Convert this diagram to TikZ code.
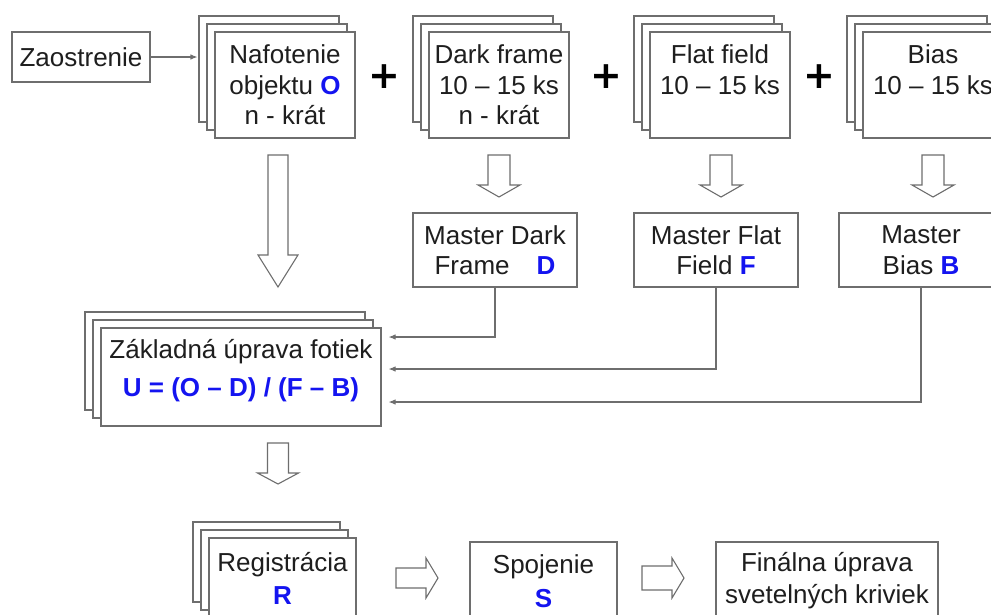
\documentclass[tikz,border=0pt]{standalone}
\usepackage{fontspec}
\setmainfont{Liberation Sans}
\newfontfamily\plusfont{DejaVu Sans}
\usetikzlibrary{arrows.meta}
\definecolor{linec}{HTML}{6E6E6E}
\definecolor{txtc}{HTML}{1E1E1E}
\definecolor{blu}{HTML}{1414F0}
\newcommand{\bl}[1]{{\bfseries\color{blu}#1}}
\newcommand{\stackcards}[6]{%
  \node[card, minimum width=#4pt, minimum height=#5pt] (#1-b) at ({#2-16},{#3-16}) {};
  \node[card, minimum width=#4pt, minimum height=#5pt] (#1-m) at ({#2-8},{#3-8}) {};
  \node[card, minimum width=#4pt, minimum height=#5pt] (#1) at (#2,#3) {#6};}
\newcommand{\downblock}[6]{% cx, ytop, yhead, ytip, shaft half, head half
  \draw[hollow] ({#1-#5},#2) -- ({#1+#5},#2) -- ({#1+#5},#3) -- ({#1+#6},#3) -- (#1,#4) -- ({#1-#6},#3) -- ({#1-#5},#3) -- cycle;}
\newcommand{\rightblock}[6]{% cy, xleft, xhead, xtip, shaft half, head half
  \draw[hollow] (#2,{#1-#5}) -- (#3,{#1-#5}) -- (#3,{#1-#6}) -- (#4,#1) -- (#3,{#1+#6}) -- (#3,{#1+#5}) -- (#2,{#1+#5}) -- cycle;}
\begin{document}
\begin{tikzpicture}[x=1pt,y=-1pt,
  card/.style={draw=linec, line width=1.1pt, fill=white, rectangle, inner sep=0pt, align=center, text=txtc, font=\fontsize{26}{30.5}\selectfont},
  hollow/.style={draw=linec, line width=1.1pt, fill=white, line join=miter},
  feed/.style={draw=linec, line width=1.1pt, -{Latex[length=7pt,width=5.5pt]}},
  plus/.style={font=\plusfont\bfseries\fontsize{38}{38}\selectfont, text=black, inner sep=0pt},
  lbl/.style={align=center, text=txtc, inner sep=0pt, font=\fontsize{26}{30.5}\selectfont}]

\clip (0,0) rectangle (991,614);
\fill[white] (0,0) rectangle (991,614);

% top row
\node[card, minimum width=138pt, minimum height=50pt] (zao) at (81,57) {Zaostrenie};
\stackcards{naf}{285}{85}{140}{106}{Nafotenie\\objektu \bl{O}\\n - krát}
\stackcards{dark}{499}{85}{140}{106}{Dark frame\\10 – 15 ks\\n - krát}
\stackcards{flat}{720}{85}{140}{106}{Flat field\\10 – 15 ks\\\mbox{}}
\stackcards{bias}{933}{85}{140}{106}{Bias\\10 – 15 ks\\\mbox{}}
\node[plus] (p1) at (384,77) {+};
\node[plus] (p2) at (606,77) {+};
\node[plus] (p3) at (819,77) {+};

\draw[feed, shorten >=1pt] (zao.east) -- (zao.east -| naf-b.west);

% down arrows
\downblock{278}{155}{255}{287}{10}{20}
\downblock{499}{155}{185}{197}{11}{21}
\downblock{721}{155}{185}{197}{11}{21}
\downblock{933}{155}{185}{197}{11}{21}

% master frames
\node[card, minimum width=164pt, minimum height=74pt] (mdark) at (495,250) {Master Dark\\Frame\hspace{27pt}\bl{D}};
\node[card, minimum width=164pt, minimum height=74pt] (mflat) at (716,250) {Master Flat\\Field \bl{F}};
\node[card, minimum width=164pt, minimum height=74pt] (mbias) at (921,250) {Master\\Bias \bl{B}};

% basic correction
\stackcards{zak}{241}{377}{280}{98}{}
\node[lbl] (zak-t) at (241,371) {Základná úprava fotiek\\[7.5pt]\bl{U = (O – D) / (F – B)}};

\draw[feed] (mdark.south) |- ([xshift=7pt,yshift=40pt]zak.east);
\draw[feed] (mflat.south) |- ([xshift=7pt,yshift=8pt]zak.east);
\draw[feed] (mbias.south) |- ([xshift=7pt,yshift=-25pt]zak.east);

\downblock{278}{443}{473}{484}{10.5}{20.5}

% bottom row
\stackcards{reg}{282.5}{578}{147}{80}{Registrácia\\[2.5pt]\bl{R}}
\node[card, minimum width=147pt, minimum height=78pt] (spo) at (543.5,581) {Spojenie\\[3pt]\bl{S}};
\node[card, minimum width=222pt, minimum height=78pt] (fin) at (827,581) {Finálna úprava\\[1.5pt]svetelných kriviek};

\rightblock{578}{396}{426}{438}{10}{20}
\rightblock{578}{642}{672}{684}{12}{20}
\end{tikzpicture}
\end{document}
